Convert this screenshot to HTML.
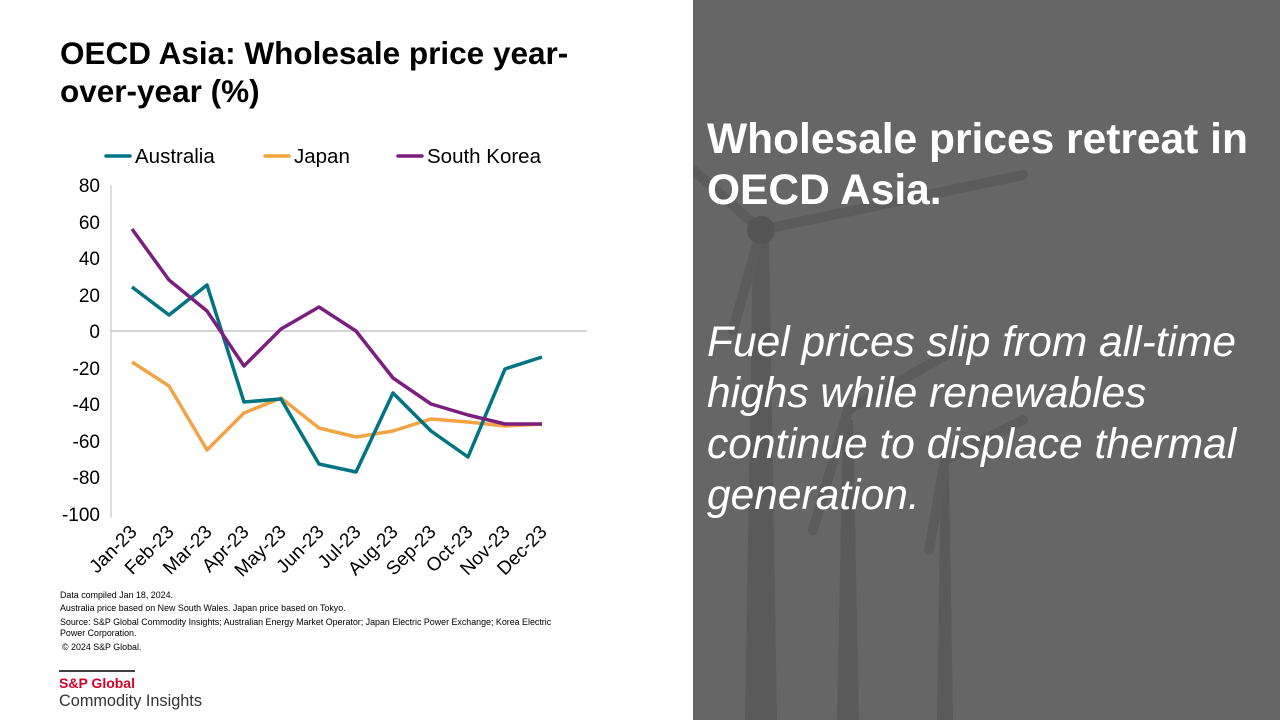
<!DOCTYPE html>
<html><head><meta charset="utf-8"><style>
body{margin:0;width:1280px;height:720px;position:relative;background:#fff;font-family:"Liberation Sans",Arial,sans-serif;overflow:hidden}
.t{position:absolute;white-space:nowrap}
</style></head><body>
<div class="t" style="left:60px;top:34px;font-size:31.5px;font-weight:bold;line-height:38px;color:#000">OECD Asia: Wholesale price year-<br>over-year (%)</div>
<svg width="693" height="720" style="position:absolute;left:0;top:0" font-family="Liberation Sans,Arial,sans-serif">
<g stroke-width="3.5" stroke-linecap="round">
<line x1="106" y1="156" x2="130" y2="156" stroke="#007482"/>
<line x1="265" y1="156" x2="289" y2="156" stroke="#f2a444"/>
<line x1="398" y1="156" x2="422" y2="156" stroke="#7b1f7f"/>
</g>
<g font-size="20.5" fill="#000">
<text x="135" y="163">Australia</text><text x="294" y="163">Japan</text><text x="427" y="163">South Korea</text>
</g>
<g font-size="19" fill="#000" text-anchor="end">
<text x="100" y="192">80</text><text x="100" y="229">60</text><text x="100" y="265">40</text><text x="100" y="302">20</text><text x="100" y="338">0</text><text x="100" y="375">-20</text><text x="100" y="411">-40</text><text x="100" y="448">-60</text><text x="100" y="484">-80</text><text x="100" y="521">-100</text>
</g>
<line x1="111" y1="185" x2="111" y2="518" stroke="#bbb" stroke-width="1"/>
<line x1="111" y1="331" x2="587" y2="331" stroke="#aaa" stroke-width="1"/>
<g fill="none" stroke-width="3.5" stroke-linejoin="round">
<polyline stroke="#f2a444" points="132,362 169,386 207,450 244,413 281,398 319,428 356,437 393,431 431,419 468,422 505,426 542,424"/>
<polyline stroke="#007482" points="132,287 169,315 207,285 244,402 281,399 319,464 356,472 393,393 431,431 468,457 505,369 542,357"/>
<polyline stroke="#7b1f7f" points="132,229 169,280 207,311 244,366 281,329 319,307 356,331 393,378 431,404 468,415 505,424 542,424"/>
</g>
<g font-size="19" fill="#000" text-anchor="end">
<text transform="translate(138,533) rotate(-45)">Jan-23</text>
<text transform="translate(175,533) rotate(-45)">Feb-23</text>
<text transform="translate(213,533) rotate(-45)">Mar-23</text>
<text transform="translate(250,533) rotate(-45)">Apr-23</text>
<text transform="translate(287,533) rotate(-45)">May-23</text>
<text transform="translate(325,533) rotate(-45)">Jun-23</text>
<text transform="translate(362,533) rotate(-45)">Jul-23</text>
<text transform="translate(399,533) rotate(-45)">Aug-23</text>
<text transform="translate(437,533) rotate(-45)">Sep-23</text>
<text transform="translate(474,533) rotate(-45)">Oct-23</text>
<text transform="translate(511,533) rotate(-45)">Nov-23</text>
<text transform="translate(548,533) rotate(-45)">Dec-23</text>
</g>
<g font-size="8.9" fill="#000">
<text x="60" y="598">Data compiled Jan 18, 2024.</text>
<text x="60" y="611">Australia price based on New South Wales. Japan price based on Tokyo.</text>
<text x="60" y="625">Source: S&amp;P Global Commodity Insights; Australian Energy Market Operator;  Japan Electric Power Exchange; Korea Electric</text>
<text x="60" y="636">Power Corporation.</text>
<text x="62" y="650">© 2024 S&amp;P Global.</text>
</g>
<line x1="59" y1="671" x2="135" y2="671" stroke="#000" stroke-width="1.5"/>
<text x="59" y="688" font-size="14" font-weight="bold" fill="#d6002a">S&amp;P Global</text>
<text x="59" y="706" font-size="16.3" fill="#333">Commodity Insights</text>
</svg>
<div style="position:absolute;left:693px;top:0;width:587px;height:720px;background:#666">
<svg width="587" height="720" style="position:absolute;left:0;top:0">
<g fill="#5a5a5a">
<polygon points="60,240 76,240 84,720 52,720"/>
<polygon points="150,420 160,420 166,720 144,720"/>
<polygon points="248,470 256,470 260,720 244,720"/>
</g>
<g stroke="#5c5c5c" stroke-width="10" stroke-linecap="round">
<line x1="68" y1="230" x2="0" y2="170"/><line x1="68" y1="230" x2="330" y2="175"/><line x1="68" y1="230" x2="40" y2="330"/>
<line x1="155" y1="410" x2="280" y2="340"/><line x1="155" y1="410" x2="120" y2="530"/>
<line x1="252" y1="460" x2="330" y2="420"/><line x1="252" y1="460" x2="236" y2="550"/>
</g>
<circle cx="68" cy="230" r="14" fill="#555"/>
</svg>
<div class="t" style="left:14px;top:114px;font-size:42.5px;font-weight:bold;line-height:51px;color:#fff">Wholesale prices retreat in<br>OECD Asia.</div>
<div class="t" style="left:14px;top:317px;font-size:42.5px;font-style:italic;line-height:51px;color:#fff">Fuel prices slip from all-time<br>highs while renewables<br>continue to displace thermal<br>generation.</div>
</div>
</body></html>
